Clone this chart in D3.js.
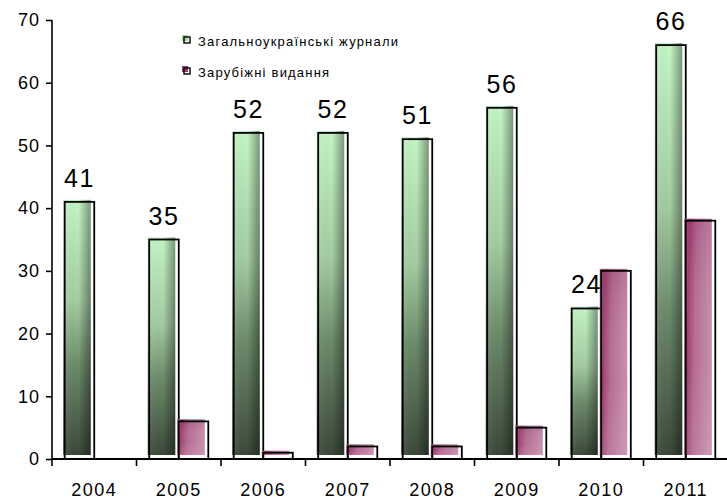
<!DOCTYPE html>
<html><head><meta charset="utf-8">
<script src="https://cdn.jsdelivr.net/npm/d3@7"></script>
<style>body{margin:0;background:#fff}svg{display:block}text{font-family:"Liberation Sans",Arial,sans-serif}</style>
</head><body>
<svg id="c" width="727" height="500"></svg>
<script>
const years = ["2004","2005","2006","2007","2008","2009","2010","2011"];
const seriesNames = ["Загальноукраїнські журнали","Зарубіжні видання"];
const national = [41,35,52,52,51,56,24,66];
const foreign = [null,6,1,2,2,5,30,38];
const yTicks = [0,10,20,30,40,50,60,70];

const svg = d3.select("#c");
const defs = svg.append("defs");
const gv = defs.append("linearGradient").attr("id","gv").attr("x1",0).attr("y1",0).attr("x2",0).attr("y2",1);
[["0%","#c4f6c6"],["40%","#a4cca2"],["65%","#6d8b6b"],["100%","#3b4939"]].forEach(s=>gv.append("stop").attr("offset",s[0]).attr("stop-color",s[1]));
const gh = defs.append("linearGradient").attr("id","gh").attr("x1",0).attr("y1",0).attr("x2",1).attr("y2",0);
[["0%","#ffffff",0.1],["55%","#000000",0],["100%","#000000",0.38]].forEach(s=>gh.append("stop").attr("offset",s[0]).attr("stop-color",s[1]).attr("stop-opacity",s[2]));
const gm = defs.append("linearGradient").attr("id","gm").attr("x1",0).attr("y1",0).attr("x2",1).attr("y2",0.15);
[["0%","#b86c96"],["18%","#9c3e6e"],["45%","#b46c93"],["100%","#c68cac"]].forEach(s=>gm.append("stop").attr("offset",s[0]).attr("stop-color",s[1]));
const gmv = defs.append("linearGradient").attr("id","gmv").attr("x1",0).attr("y1",0).attr("x2",0).attr("y2",1);
[["0%","#6a1040",0.15],["60%","#ffffff",0],["100%","#ffffff",0.08]].forEach(s=>gmv.append("stop").attr("offset",s[0]).attr("stop-color",s[1]).attr("stop-opacity",s[2]));

const x0 = d3.scaleBand().domain(years).range([52,728]).padding(0);
const x1 = d3.scaleBand().domain(["n","f"]).range([0,x0.bandwidth()]).paddingInner(0).paddingOuter(0.43);
const y = d3.scaleLinear().domain([0,70]).range([459,20]);

// y axis
const yAxis = d3.axisLeft(y).tickValues(yTicks).tickSize(6).tickSizeOuter(0).tickPadding(6);
const ga = svg.append("g").attr("transform","translate(52,0)").call(yAxis);
ga.attr("font-family",null);
ga.select(".domain").attr("stroke","#000").attr("stroke-width",1.6).attr("d","M0,20V459");
ga.selectAll(".tick line").attr("stroke","#000").attr("stroke-width",1.6);
ga.selectAll(".tick text").attr("font-size",18).attr("fill","#000").style("letter-spacing","1px");

const groups = svg.append("g").selectAll("g").data(years).join("g")
  .attr("transform",d=>`translate(${x0(d)},0)`);

function drawBars(vals,key,fill,overlay){
  groups.each(function(d,i){
    const v = vals[i];
    if(v==null) return;
    const g = d3.select(this);
    const bx = x1(key), bw = x1.bandwidth(), by = y(v), bh = y(0)-y(v);
    g.append("rect").attr("x",bx-1.5).attr("y",by-2).attr("width",bw-2).attr("height",bh-2).attr("fill",fill);
    if(overlay) g.append("rect").attr("x",bx-1.5).attr("y",by-2).attr("width",bw-2).attr("height",bh-2).attr("fill",overlay);
    g.append("rect").attr("x",bx).attr("y",by).attr("width",bw).attr("height",bh)
      .attr("fill","none").attr("stroke","#000").attr("stroke-width",1.8);
  });
}
drawBars(national,"n","url(#gv)","url(#gh)");
drawBars(foreign,"f","url(#gm)","url(#gmv)");

// value labels on national
groups.each(function(d,i){
  d3.select(this).append("text").attr("x",x1("n")+x1.bandwidth()/2).attr("y",y(national[i])-15)
    .attr("text-anchor","middle").attr("font-size",25).style("letter-spacing","1.5px").attr("fill","#000").text(national[i]);
});

// x axis
const xa = svg.append("g").attr("transform","translate(0,459)");
xa.append("line").attr("x1",52).attr("x2",728).attr("stroke","#000").attr("stroke-width",1.8);
xa.selectAll("line.t").data(years).join("line").attr("class","t")
  .attr("x1",d=>x0(d)).attr("x2",d=>x0(d)).attr("y1",0).attr("y2",7).attr("stroke","#000").attr("stroke-width",1.6);
xa.selectAll("text").data(years).join("text").attr("x",d=>x0(d)+x0.bandwidth()/2).attr("y",37)
  .attr("text-anchor","middle").attr("font-size",18).style("letter-spacing","1.5px").attr("fill","#000").text(d=>d);

// legend
const legColors = ["#9ee09a","#9a3a6a"];
const lg = svg.append("g").selectAll("g").data(seriesNames).join("g")
  .attr("transform",(d,i)=>`translate(183,${41+i*31})`);
lg.append("rect").attr("x",-1).attr("y",-6).attr("width",6).attr("height",6).attr("fill",(d,i)=>legColors[i]);
lg.append("rect").attr("x",1).attr("y",-4).attr("width",6).attr("height",6).attr("fill","none").attr("stroke","#000").attr("stroke-width",1.4);
lg.append("text").attr("x",15).attr("y",4.5).attr("font-size",13).style("letter-spacing","1.2px").attr("fill","#000").text(d=>d);
</script>
</body></html>
